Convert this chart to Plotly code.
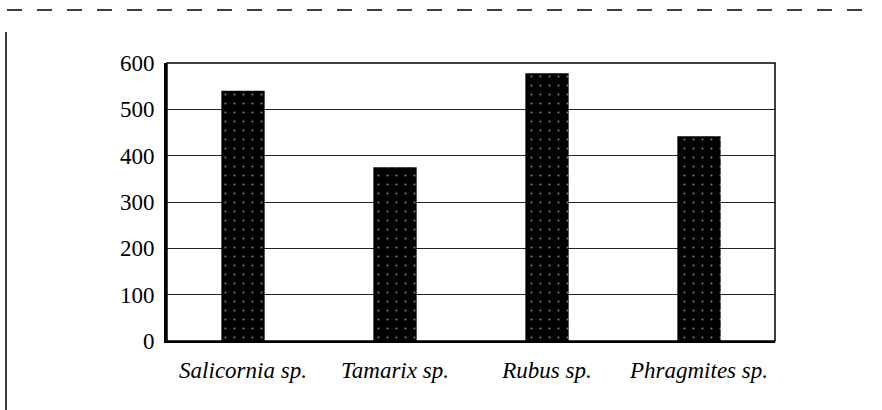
import plotly.graph_objects as go

categories = ["Salicornia sp.", "Tamarix sp.", "Rubus sp.", "Phragmites sp."]
values = [540, 375, 578, 442]
y_ticks = [0, 100, 200, 300, 400, 500, 600]

fig = go.Figure()
fig.add_trace(go.Bar(
    x=categories,
    y=values,
    marker=dict(
        color="black",
        line=dict(width=0),
        pattern=dict(shape=".", fgcolor="white", bgcolor="black", size=9, solidity=0.04),
    ),
    showlegend=False,
))

fig.update_layout(
    width=882,
    height=410,
    margin=dict(l=167, r=107, t=63, b=69),
    paper_bgcolor="white",
    plot_bgcolor="white",
    bargap=0.715,
    font=dict(family="Liberation Serif, Times New Roman, serif", color="black", size=23),
    xaxis=dict(
        type="category",
        range=[-0.5, 3.5],
        showline=True,
        linecolor="black",
        linewidth=2,
        showgrid=False,
        ticks="",
        ticklabelstandoff=7,
        tickfont=dict(family="Liberation Serif, serif", size=23, style="italic"),
    ),
    yaxis=dict(
        range=[0, 600],
        tickvals=y_ticks,
        ticktext=[str(v) for v in y_ticks],
        showline=True,
        linecolor="black",
        linewidth=3,
        showgrid=True,
        gridcolor="#222",
        gridwidth=1,
        zeroline=False,
        ticks="",
        ticklabelstandoff=5,
        tickfont=dict(family="Liberation Serif, serif", size=23),
    ),
    shapes=[
        dict(type="rect", xref="paper", yref="paper", x0=0, x1=1, y0=0, y1=1,
             line=dict(color="black", width=1.5), layer="above"),
        dict(type="line", xref="paper", yref="paper",
             x0=(7 - 167) / 608, x1=(875 - 167) / 608,
             y0=1 + (63 - 10) / 278, y1=1 + (63 - 10) / 278,
             line=dict(color="black", width=1.5, dash="longdash")),
        dict(type="line", xref="paper", yref="paper",
             x0=(6 - 167) / 608, x1=(6 - 167) / 608,
             y0=1 + (63 - 32) / 278, y1=-(410 - 341) / 278,
             line=dict(color="black", width=1.5)),
    ],
)

fig.write_html(
    "out.html",
    config={"displayModeBar": False},
    post_script="document.body.style.margin='0';document.body.style.padding='0';",
)
